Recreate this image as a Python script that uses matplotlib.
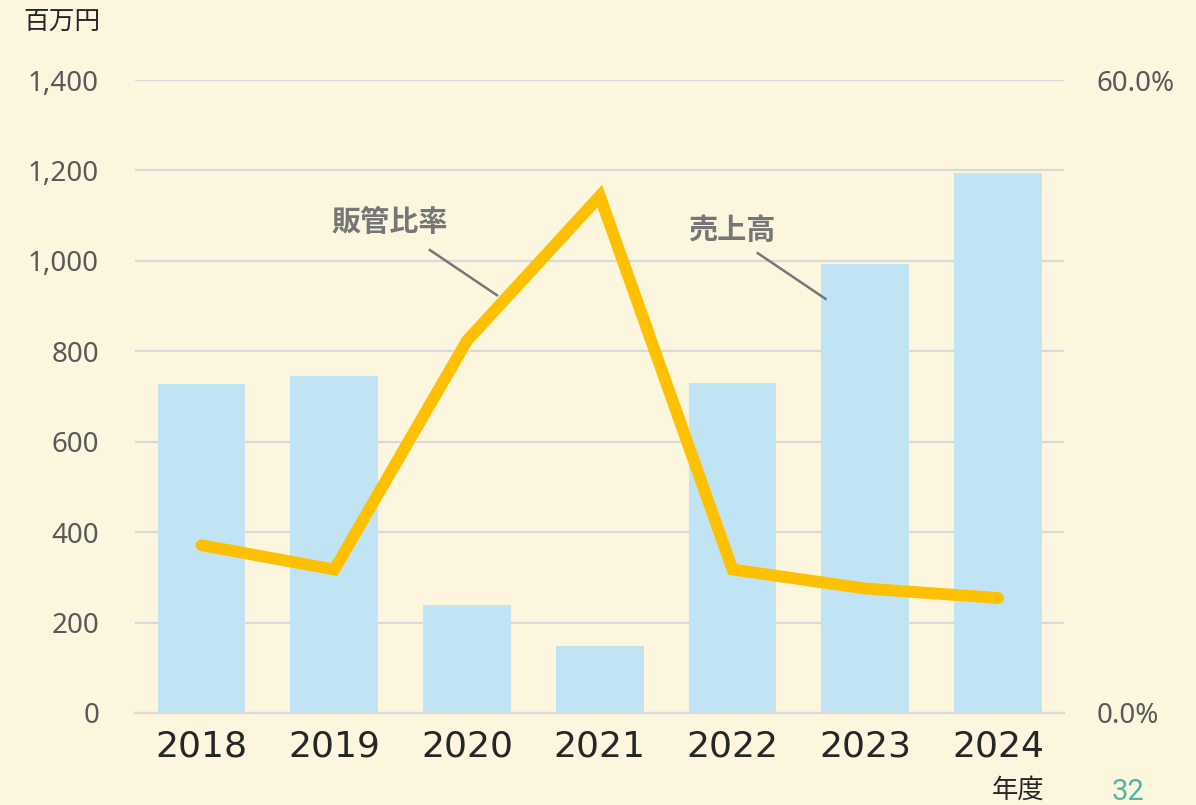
import matplotlib
matplotlib.use("Agg")
import matplotlib.pyplot as plt
import matplotlib.ticker as mticker

plt.rcParams['font.family'] = ['Noto Sans', 'Noto Sans CJK JP', 'DejaVu Sans']

years = ["2018", "2019", "2020", "2021", "2022", "2023", "2024"]
sales = [727, 745, 238, 148, 730, 992, 1195]          # 売上高 (百万円)
sga_ratio = [0.159, 0.136, 0.353, 0.490, 0.136, 0.118, 0.109]  # 販管比率

bg = "#FDF6DF"
fig = plt.figure(figsize=(11.96, 8.05), dpi=100, facecolor=bg)
ax = fig.add_axes([0.113, 0.1143, 0.777, 0.7863], facecolor=bg)
x = list(range(len(years)))

ax.set_ylim(0, 1400)
ax.set_xlim(-0.5, 6.5)
ax.set_yticks(range(0, 1401, 200))
ax.yaxis.set_major_formatter(mticker.FuncFormatter(lambda v, p: f"{int(v):,}"))
ax.grid(axis='y', color="#D9D9D9", linewidth=1.6, zorder=0)
ax.set_axisbelow(True)
for s in ["top", "right", "left"]:
    ax.spines[s].set_visible(False)
ax.spines["bottom"].set_color("#D9D9D9")
ax.spines["bottom"].set_linewidth(1.6)
ax.tick_params(axis='y', length=0, labelsize=20, labelcolor="#595959", pad=26)
ax.tick_params(axis='x', length=0, pad=12)
ax.set_xticks(x)
ax.set_xticklabels(years, fontsize=26, color="#262626", family=['DejaVu Sans'])

ax.bar(x, sales, width=0.66, color="#C1E4F4", zorder=2)

ax2 = ax.twinx()
ax2.set_ylim(0, 0.6)
ax2.set_yticks([0, 0.6])
ax2.yaxis.set_major_formatter(mticker.FuncFormatter(lambda v, p: f"{v*100:.1f}%"))
for s in ax2.spines.values():
    s.set_visible(False)
ax2.tick_params(axis='y', length=0, labelsize=20, labelcolor="#595959", pad=23)
ax2.plot(x, sga_ratio, color="#FFC000", linewidth=8.5, solid_capstyle='round',
         solid_joinstyle='miter', zorder=3)

# annotations
cjk = ['Noto Sans CJK JP', 'DejaVu Sans']
ax.text(1.419, 1086, "販管比率", ha='center', va='center', fontsize=21,
        fontweight='bold', color="#767676", family=cjk)
ax.plot([1.72, 2.225], [1024, 924], color="#767676", linewidth=1.8, zorder=4)
ax.text(3.993, 1068, "売上高", ha='center', va='center', fontsize=21,
        fontweight='bold', color="#767676", family=cjk)
ax.plot([4.19, 4.70], [1017, 916], color="#767676", linewidth=1.8, zorder=4)

fig.text(62 / 1196, 1 - 22 / 805, "百万円", ha='center', va='center', fontsize=18.5,
         color="#262626", family=cjk)
fig.text(1018 / 1196, 1 - 790 / 805, "年度", ha='center', va='center', fontsize=19,
         color="#262626", family=cjk)
fig.text(1128 / 1196, 1 - 792 / 805, "32", ha='center', va='center', fontsize=21,
         color="#4DB6A4", family=['Roboto', 'DejaVu Sans'])

fig.savefig("out.png", dpi=100, facecolor=bg)
